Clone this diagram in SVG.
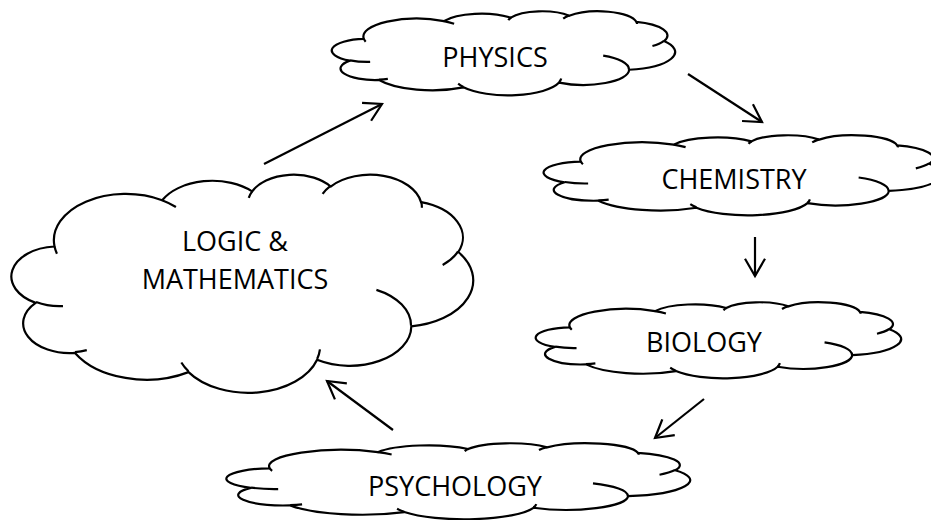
<svg xmlns="http://www.w3.org/2000/svg" xmlns:xlink="http://www.w3.org/1999/xlink" width="931" height="520" viewBox="0 0 931 520">
  <style>
    .cloud { fill: #ffffff; stroke: #000000; stroke-width: 2.2; stroke-linejoin: round; vector-effect: non-scaling-stroke; }
    .crease { fill: none; stroke: #000000; stroke-width: 2.2; stroke-linecap: butt; vector-effect: non-scaling-stroke; }
    .label { font-family: "Open Sans", "Noto Sans", sans-serif; font-size: 27px; fill: #000000; text-anchor: middle; }
    .link { fill: none; stroke: #000000; stroke-width: 2.2; marker-end: url(#arrow); }
  </style>
  <defs>
    <!-- cloud outline in a 100 x 100 box -->
    <path id="cloud-body" class="cloud" d="M 9.028 33.264
      A 15.632 21.273 0 0 1 32.419 12.042
      A 12.345 16.822 0 0 1 51.981 7.942
      A 10.104 13.762 0 0 1 69.060 5.738
      A 11.243 15.266 0 0 1 88.701 12.905
      A 12.345 16.836 0 0 1 96.803 35.785
      A 15.683 21.343 0 0 1 86.588 69.914
      A 13.391 18.211 0 0 1 66.106 85.215
      A 15.630 21.331 0 0 1 38.153 90.891
      A 17.870 24.405 0 0 1 13.477 82.081
      A 10.093 13.699 0 0 1 4.933 59.113
      A 10.058 13.762 0 0 1 9.028 33.264 Z"/>
    <!-- inner lobe creases -->
    <path id="cloud-creases" class="crease" d="M 10.863 60.595 A 10.058 13.762 0 0 1 5.000 58.750
      M 16.037 80.785 A 10.093 13.699 0 0 1 13.470 81.669
      M 38.144 90.486 A 15.630 21.331 0 0 1 36.597 86.458
      M 66.729 80.442 A 15.630 21.331 0 0 1 66.113 84.859
      M 79.002 53.134 A 13.391 18.211 0 0 1 86.530 69.653
      M 96.755 35.542 A 12.345 16.836 0 0 1 93.405 41.731
      M 88.713 12.560 A 11.243 15.266 0 0 1 88.889 15.486
      M 67.310 9.148 A 11.243 15.266 0 0 1 69.028 5.419
      M 51.252 10.926 A 10.104 13.762 0 0 1 52.083 7.711
      M 32.407 12.019 A 15.632 21.273 0 0 1 35.417 15.139
      M 9.553 36.549 A 15.632 21.273 0 0 1 9.028 33.264"/>
    <marker id="arrow" markerUnits="userSpaceOnUse" markerWidth="24" markerHeight="24" viewBox="-20 -12 24 24" refX="0" refY="0" orient="auto">
      <path d="M -17.3 -10 L 0 0 L -17.3 10" fill="none" stroke="#000000" stroke-width="2.2" stroke-linejoin="miter"/>
    </marker>
  </defs>

  <g id="connectors">
    <line class="link" x1="264" y1="164" x2="382" y2="104"/>
    <line class="link" x1="688" y1="74" x2="762" y2="122"/>
    <line class="link" x1="755" y1="237" x2="755" y2="276"/>
    <line class="link" x1="704" y1="399" x2="655" y2="438"/>
    <line class="link" x1="393" y1="430" x2="327" y2="381"/>
  </g>

  <g id="physics">
    <g transform="translate(333 11) scale(3.42 0.84)">
      <use xlink:href="#cloud-body"/>
      <use xlink:href="#cloud-creases"/>
    </g>
    <text class="label" x="495" y="67">PHYSICS</text>
  </g>

  <g id="chemistry">
    <g transform="translate(545 135) scale(3.97 0.8)">
      <use xlink:href="#cloud-body"/>
      <use xlink:href="#cloud-creases"/>
    </g>
    <text class="label" x="734" y="189">CHEMISTRY</text>
  </g>

  <g id="biology">
    <g transform="translate(537 302) scale(3.64 0.76)">
      <use xlink:href="#cloud-body"/>
      <use xlink:href="#cloud-creases"/>
    </g>
    <text class="label" x="704" y="352">BIOLOGY</text>
  </g>

  <g id="psychology">
    <g transform="translate(228 443) scale(4.62 0.76)">
      <use xlink:href="#cloud-body"/>
      <use xlink:href="#cloud-creases"/>
    </g>
    <text class="label" x="455" y="496">PSYCHOLOGY</text>
  </g>

  <g id="logic-mathematics">
    <g transform="translate(13 174) scale(4.6 2.18)">
      <use xlink:href="#cloud-body"/>
      <use xlink:href="#cloud-creases"/>
    </g>
    <text class="label" x="235" y="251">LOGIC &amp;</text>
    <text class="label" x="235" y="289">MATHEMATICS</text>
  </g>
</svg>
